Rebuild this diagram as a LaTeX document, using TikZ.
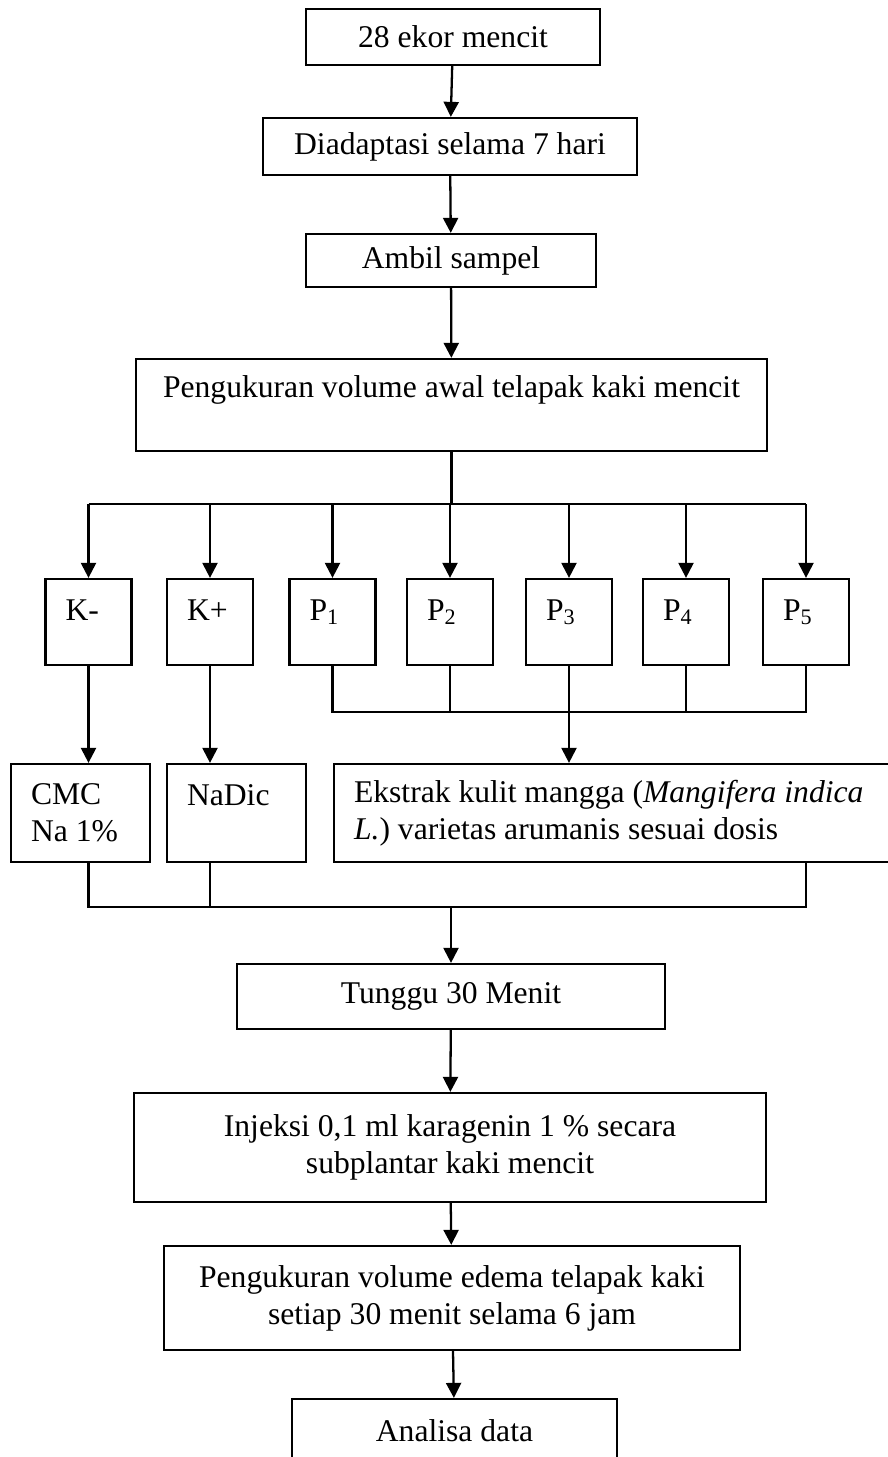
\documentclass[tikz,border=0pt]{standalone}
\usepackage{fontspec}
\setmainfont{Liberation Serif}
\usepackage{tikz}
\usetikzlibrary{arrows.meta,calc,positioning}

\begin{document}
\begin{tikzpicture}[
  x=0.02cm, y=-0.02cm,
  font=\fontsize{18}{21}\selectfont,
  line width=1.3pt,
  box/.style={draw, align=center, inner sep=0pt},
  grp/.style={draw, align=flush left, inner xsep=0.4cm, inner ysep=0pt, text width=0.92cm, text height=0.5cm, text depth=0.58cm, minimum height=1.72cm},
  dose/.style={draw, align=flush left, inner xsep=0.4cm, inner ysep=0pt, minimum height=1.96cm},
  arr/.style={-{Triangle[length=0.3cm, width=0.3cm]}},
  link/.style={-}
]
\clip (0,0) rectangle (888,1457);
% main steps
\node[box, minimum width=5.88cm, minimum height=1.12cm] (start) at (453,37) {28 ekor mencit};
\node[box, minimum width=7.48cm, minimum height=1.14cm] (adapt) at (450,146.5) {Diadaptasi selama 7 hari};
\node[box, minimum width=5.8cm, minimum height=1.06cm] (sample) at (451,260.5) {Ambil sampel};
\node[box, minimum width=12.62cm, minimum height=1.84cm] (init) at (451.5,405) {Pengukuran volume awal telapak kaki mencit\\\mbox{}};
% groups
\node[grp] (km) at (88.5,622) {K-};
\node[grp] (kp) at (210,622) {K+};
\node[grp] (p1) at (332.5,622) {P\textsubscript{1}};
\node[grp] (p2) at (450,622) {P\textsubscript{2}};
\node[grp] (p3) at (569,622) {P\textsubscript{3}};
\node[grp] (p4) at (686,622) {P\textsubscript{4}};
\node[grp] (p5) at (806,622) {P\textsubscript{5}};
% treatments
\node[dose, text width=1.98cm] (cmc) at (80.5,813) {CMC\\Na 1\%};
\node[dose, text width=1.98cm] (nadic) at (236.5,813) {NaDic\\\mbox{}};
\node[dose, text width=10.6cm] (ekstrak) at (619,813) {Ekstrak kulit mangga (\textit{Mangifera indica}\\\textit{L.}) varietas arumanis sesuai dosis};
% later steps
\node[box, minimum width=8.56cm, minimum height=1.3cm] (wait) at (451,996.5) {Tunggu 30 Menit};
\node[box, minimum width=12.64cm, minimum height=2.18cm] (inject) at (450,1147.5) {Injeksi 0,1 ml karagenin 1 \% secara\\subplantar kaki mencit};
\node[box, minimum width=11.52cm, minimum height=2.08cm] (edema) at (452,1298) {Pengukuran volume edema telapak kaki\\setiap 30 menit selama 6 jam};
\node[box, minimum width=6.5cm, minimum height=1.28cm] (analysis) at (454.5,1431) {Analisa data};
\coordinate (split) at (453,504);
\coordinate (merge) at (450,712);
\coordinate (join) at (451,907);
\draw[arr] (start) -- (adapt);
\draw[arr] (adapt) -- (sample);
\draw[arr] (sample) -- (init);
\draw[link] (init.south) -- (init.south |- split);
\draw[link] (km.north |- split) -- (p5.north |- split);
\draw[arr] (km.north |- split) -- (km.north);
\draw[arr] (kp.north |- split) -- (kp.north);
\draw[arr] (p1.north |- split) -- (p1.north);
\draw[arr] (p2.north |- split) -- (p2.north);
\draw[arr] (p3.north |- split) -- (p3.north);
\draw[arr] (p4.north |- split) -- (p4.north);
\draw[arr] (p5.north |- split) -- (p5.north);
\draw[link] (p1.south) -- (p1.south |- merge) -- (p5.south |- merge) -- (p5.south);
\draw[link] (p2.south) -- (p2.south |- merge);
\draw[link] (p4.south) -- (p4.south |- merge);
\draw[arr] (km.south) -- (km.south |- cmc.north);
\draw[arr] (kp.south) -- (kp.south |- nadic.north);
\draw[arr] (p3.south) -- (p3.south |- ekstrak.north);
\draw[link] (cmc.south -| km) -- (join -| km) -- (join -| p5) -- (ekstrak.south -| p5);
\draw[link] (nadic.south -| kp) -- (join -| kp);
\draw[arr] (join -| wait) -- (wait);
\draw[arr] (wait) -- (inject);
\draw[arr] (inject) -- (edema);
\draw[arr] (edema) -- (analysis);
\end{tikzpicture}
\end{document}
